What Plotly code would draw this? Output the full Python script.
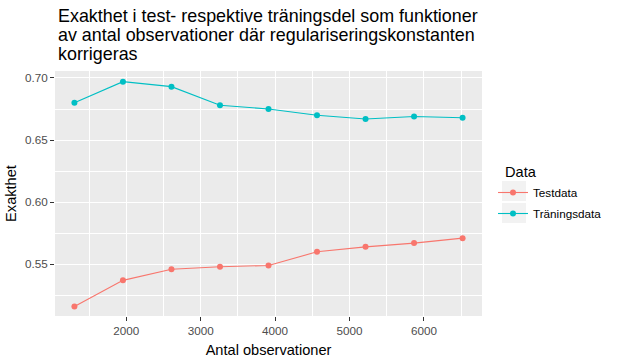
import plotly.graph_objects as go

n_obs = [1304, 1956, 2608, 3260, 3912, 4564, 5216, 5868, 6520]
test_acc = [0.516, 0.537, 0.546, 0.548, 0.549, 0.560, 0.564, 0.567, 0.571]
train_acc = [0.680, 0.697, 0.693, 0.678, 0.675, 0.670, 0.667, 0.669, 0.668]
series_names = ["Testdata", "Träningsdata"]
series_colors = ["#F8766D", "#00BFC4"]
title_lines = [
    "Exakthet i test- respektive träningsdel som funktioner",
    "av antal observationer där regulariseringskonstanten",
    "korrigeras",
]

FONT = "Liberation Sans, Arial, sans-serif"

W, H = 625, 361
ml, mr, mt, mb = 55, 143, 71, 45
PW, PH = W - ml - mr, H - mt - mb


def px_x(x):
    return (x - ml) / PW


def px_y(y):
    return 1 - (y - mt) / PH


fig = go.Figure()
for i, (name, vals, col) in enumerate(zip(series_names, [test_acc, train_acc], series_colors)):
    fig.add_trace(go.Scatter(
        x=n_obs, y=vals, name=name, mode="lines+markers",
        line=dict(color=col, width=1.1),
        marker=dict(color=col, size=6),
        legendgroup=f"g{i}",
    ))

annotations = []
for k, line in enumerate(title_lines):
    annotations.append(dict(
        text=line, xref="paper", yref="paper",
        x=px_x(56), y=px_y(16 + 19 * k),
        xanchor="left", yanchor="middle", showarrow=False,
        font=dict(size=17.9, color="black", family=FONT),
    ))
annotations.append(dict(
    text="Data", xref="paper", yref="paper",
    x=px_x(503), y=px_y(172), xanchor="left", yanchor="middle",
    showarrow=False, font=dict(size=14.6, color="black", family=FONT),
))

shapes = []
for cy in [191, 213]:
    shapes.append(dict(
        type="rect", xref="paper", yref="paper", layer="below",
        x0=px_x(502), x1=px_x(526), y0=px_y(cy - 10), y1=px_y(cy + 10),
        fillcolor="#F2F2F2", line=dict(width=0),
    ))

fig.update_layout(
    width=W, height=H,
    margin=dict(l=ml, r=mr, t=mt, b=mb, pad=0, autoexpand=False),
    paper_bgcolor="white",
    plot_bgcolor="#EBEBEB",
    font=dict(family=FONT, color="black"),
    annotations=annotations,
    shapes=shapes,
    showlegend=True,
    legend=dict(
        font=dict(size=11.7, color="black"),
        x=px_x(493), xanchor="left",
        y=px_y(178), yanchor="top",
        bgcolor="rgba(0,0,0,0)",
        tracegroupgap=2,
        itemwidth=30,
    ),
)

fig.update_xaxes(
    range=[1043, 6781], automargin=False,
    tickmode="array", tickvals=[2000, 3000, 4000, 5000, 6000],
    ticktext=["2000", "3000", "4000", "5000", "6000"],
    showgrid=True, gridcolor="white", gridwidth=1.1,
    minor=dict(tickmode="array", tickvals=[1500, 2500, 3500, 4500, 5500, 6500],
               showgrid=True, gridcolor="white", gridwidth=0.5, ticks=""),
    zeroline=False, showline=False,
    ticks="outside", ticklen=4, tickcolor="#333333", tickwidth=1,
    tickfont=dict(size=11.7, color="#4D4D4D"),
    title=dict(text="Antal observationer", font=dict(size=14.6, color="black"), standoff=8),
)
fig.update_yaxes(
    range=[0.5083, 0.7056], automargin=False,
    tickmode="array", tickvals=[0.55, 0.60, 0.65, 0.70],
    ticktext=["0.55", "0.60", "0.65", "0.70"],
    showgrid=True, gridcolor="white", gridwidth=1.1,
    minor=dict(tickmode="array", tickvals=[0.525, 0.575, 0.625, 0.675],
               showgrid=True, gridcolor="white", gridwidth=0.5, ticks=""),
    zeroline=False, showline=False,
    ticks="outside", ticklen=4, tickcolor="#333333", tickwidth=1,
    tickfont=dict(size=11.7, color="#4D4D4D"),
    title=dict(text="Exakthet", font=dict(size=14.6, color="black"), standoff=4),
)

fig.write_html("out.html", config={"displayModeBar": False},
               post_script="document.body.style.margin='0';")
